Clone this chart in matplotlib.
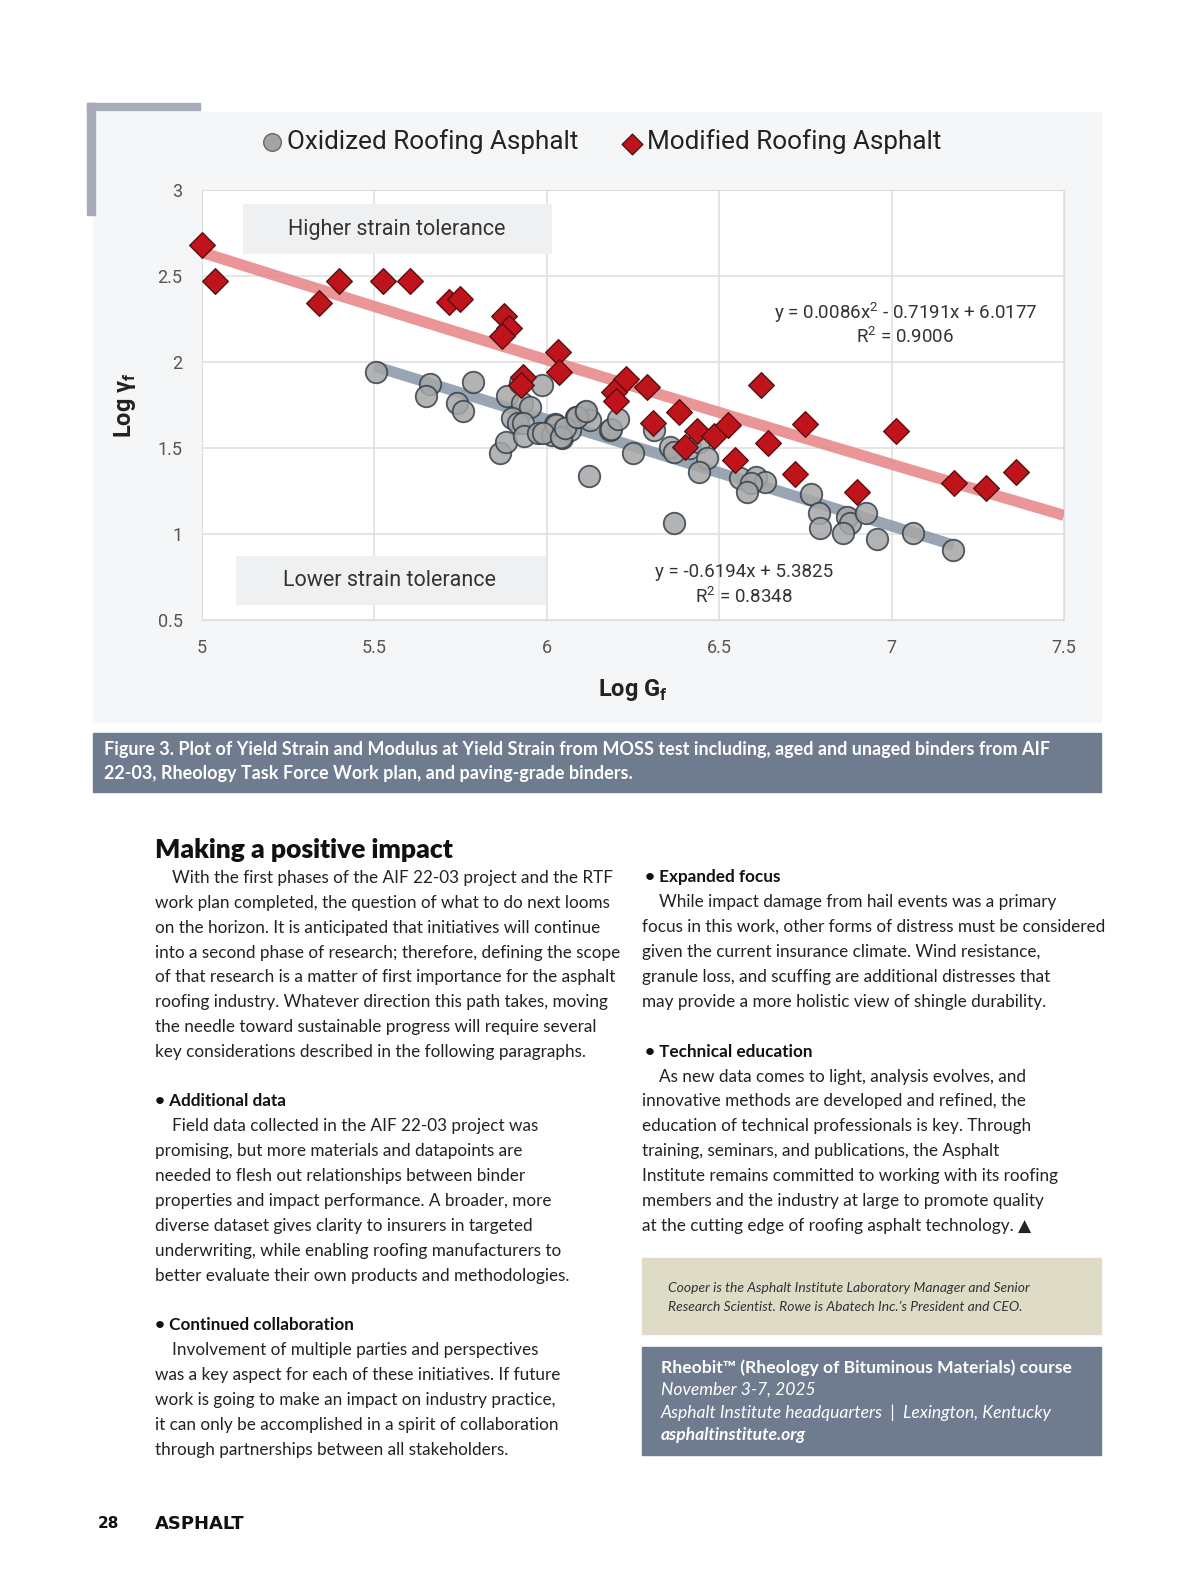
import numpy as np
import matplotlib.pyplot as plt
from matplotlib.patches import Rectangle

# ---- chart data ----
oxidized_G = [5.506, 5.661, 5.649, 5.741, 5.757, 5.786, 5.886, 5.864, 5.883, 5.922,
              5.927, 5.951, 5.898, 5.917, 5.931, 5.934, 5.975, 5.985, 6.023, 6.014,
              6.043, 6.067, 6.086, 6.11, 6.125, 6.122, 6.183, 6.026, 5.99, 6.042,
              6.052, 6.088, 6.114, 6.187, 6.207, 6.251, 6.311, 6.358, 6.368, 6.414,
              6.44, 6.466, 6.44, 6.368, 6.559, 6.606, 6.632, 6.591, 6.58, 6.766,
              6.79, 6.793, 6.87, 6.88, 6.858, 6.927, 6.958, 7.061, 7.177]
oxidized_Y = [1.944, 1.872, 1.804, 1.76, 1.713, 1.886, 1.804, 1.469, 1.533, 1.876,
              1.76, 1.74, 1.673, 1.644, 1.648, 1.572, 1.585, 1.866, 1.64, 1.576,
              1.556, 1.605, 1.682, 1.707, 1.663, 1.339, 1.605, 1.634, 1.585, 1.566,
              1.615, 1.679, 1.715, 1.609, 1.667, 1.469, 1.605, 1.504, 1.479, 1.498,
              1.537, 1.444, 1.362, 1.066, 1.324, 1.333, 1.304, 1.295, 1.246, 1.233,
              1.124, 1.033, 1.1, 1.062, 1.004, 1.124, 0.969, 1.004, 0.907]

modified_G = [5.0, 5.038, 5.339, 5.397, 5.524, 5.603, 5.716, 5.748, 5.876, 5.891,
              5.869, 5.93, 5.924, 6.032, 6.036, 6.231, 6.194, 6.2, 6.29, 6.383,
              6.309, 6.436, 6.486, 6.401, 6.526, 6.642, 6.546, 6.62, 6.749, 6.72,
              6.901, 7.013, 7.18, 7.274, 7.36]
modified_Y = [2.68, 2.473, 2.345, 2.473, 2.473, 2.473, 2.347, 2.364, 2.267, 2.196,
              2.151, 1.915, 1.866, 2.06, 1.944, 1.899, 1.827, 1.775, 1.853, 1.711,
              1.647, 1.60, 1.57, 1.504, 1.634, 1.527, 1.43, 1.866, 1.638, 1.347,
              1.246, 1.599, 1.295, 1.266, 1.362]

# trendline coefficients as printed on the chart
mod_coef = [0.0086, -0.7191, 6.0177]
mod_range = [5.0, 7.5]
oxi_coef = [-0.6194, 5.3825]
oxi_range = [5.5, 7.18]

x_ticks = [5, 5.5, 6, 6.5, 7, 7.5]
y_ticks = [0.5, 1, 1.5, 2, 2.5, 3]

W, H = 1200, 1575
fig = plt.figure(figsize=(W / 100, H / 100), dpi=100)
fig.patch.set_facecolor('white')

page = fig.add_axes([0, 0, 1, 1])
page.set_xlim(0, W)
page.set_ylim(H, 0)
page.axis('off')

BODY = ['Lato', 'DejaVu Sans']
NARROW = ['Liberation Sans Narrow', 'Roboto', 'DejaVu Sans']
SLATE = '#6f7b8f'

# chart image background and decorative bracket
page.add_patch(Rectangle((93, 112), 1008, 610, color='#f5f6f7', zorder=0))
page.add_patch(Rectangle((87, 103), 113, 7, color='#a8abb8', zorder=1))
page.add_patch(Rectangle((87, 103), 8, 112, color='#a8abb8', zorder=1))

# legend row
page.scatter([272], [142], s=160, marker='o', color='#a3a3a3', edgecolor='#666666', zorder=3)
page.text(287, 142, 'Oxidized Roofing Asphalt', fontsize=18.8, family=NARROW,
          color='#222222', va='center', ha='left')
page.scatter([632], [144], s=110, marker='D', color='#c0141c', edgecolor='#5a1010', zorder=3)
page.text(647, 142, 'Modified Roofing Asphalt', fontsize=18.8, family=NARROW,
          color='#222222', va='center', ha='left')

# axis labels and ticks drawn by the chart axes
ax = fig.add_axes([202 / W, 1 - 620 / H, (1064 - 202) / W, (620 - 190) / H])
ax.set_facecolor('white')
ax.set_xlim(5, 7.5)
ax.set_ylim(0.5, 3)
ax.set_xticks(x_ticks)
ax.set_xticklabels([f'{t:g}' for t in x_ticks])
ax.set_yticks(y_ticks)
ax.set_yticklabels([f'{t:g}' for t in y_ticks])
ax.grid(True, color='#dedede', linewidth=1.1)
ax.set_axisbelow(True)
for s in ax.spines.values():
    s.set_color('#dedede')
ax.tick_params(length=0, pad=14, labelsize=13, labelcolor='#555555')
for lab in ax.get_xticklabels() + ax.get_yticklabels():
    lab.set_family(NARROW)
ax.set_xlabel('Log G$_\\mathregular{f}$', fontsize=17, fontweight='bold', family=NARROW,
              color='#222222', labelpad=14)
ax.set_ylabel('Log γ$_\\mathregular{f}$', fontsize=17, fontweight='bold', family=NARROW,
              color='#222222', labelpad=14)

# shaded annotation boxes
ax.add_patch(Rectangle((5.119, 2.628), 0.895, 0.291, color='#eef0f2', zorder=2, lw=0))
ax.text(5.565, 2.773, 'Higher strain tolerance', fontsize=15.5, family=NARROW, color='#333333',
        ha='center', va='center', zorder=2.1)
ax.add_patch(Rectangle((5.099, 0.587), 0.898, 0.285, color='#eef0f2', zorder=2, lw=0))
ax.text(5.545, 0.727, 'Lower strain tolerance', fontsize=15.5, family=NARROW, color='#333333',
        ha='center', va='center', zorder=2.1)

# trendlines
xm = np.linspace(mod_range[0], mod_range[1], 100)
ax.plot(xm, np.polyval(mod_coef, xm), color='#e88a8d', linewidth=8, alpha=0.9,
        solid_capstyle='butt', zorder=3)
xo = np.linspace(oxi_range[0], oxi_range[1], 100)
ax.plot(xo, np.polyval(oxi_coef, xo), color='#8796a6', linewidth=8, alpha=0.85,
        solid_capstyle='butt', zorder=3)

ax.scatter(oxidized_G, oxidized_Y, s=240, marker='o', color='#a6a6a6', alpha=0.85,
           edgecolor='#34404c', linewidth=1.3, zorder=4)
ax.scatter(modified_G, modified_Y, s=170, marker='D', color='#c0141c',
           edgecolor='#5a1010', linewidth=1.0, zorder=5, clip_on=False)

ax.text(7.04, 2.29, 'y = 0.0086x$^\\mathregular{2}$ - 0.7191x + 6.0177', fontsize=13.5,
        family=NARROW, color='#333333', ha='center', va='center', zorder=6)
ax.text(7.04, 2.145, 'R$^\\mathregular{2}$ = 0.9006', fontsize=13.5, family=NARROW,
        color='#333333', ha='center', va='center', zorder=6)
ax.text(6.571, 0.78, 'y = -0.6194x + 5.3825', fontsize=13.5, family=NARROW,
        color='#333333', ha='center', va='center', zorder=6)
ax.text(6.571, 0.635, 'R$^\\mathregular{2}$ = 0.8348', fontsize=13.5, family=NARROW,
        color='#333333', ha='center', va='center', zorder=6)

# caption bar
page.add_patch(Rectangle((93, 733), 1008, 59, color=SLATE, zorder=1))
page.text(104, 750, 'Figure 3. Plot of Yield Strain and Modulus at Yield Strain from MOSS test including, aged and unaged binders from AIF',
          fontsize=13, family=BODY, fontweight='bold', color='white', va='center', zorder=2)
page.text(104, 774, '22-03, Rheology Task Force Work plan, and paving-grade binders.',
          fontsize=13, family=BODY, fontweight='bold', color='white', va='center', zorder=2)

# body text
left_lines = [
    (850, 155, 'Making a positive impact', 'head'),
    (878, 172, 'With the first phases of the AIF 22-03 project and the RTF', 'n'),
    (903, 155, 'work plan completed, the question of what to do next looms', 'n'),
    (928, 155, 'on the horizon. It is anticipated that initiatives will continue', 'n'),
    (953, 155, 'into a second phase of research; therefore, defining the scope', 'n'),
    (977, 155, 'of that research is a matter of first importance for the asphalt', 'n'),
    (1002, 155, 'roofing industry. Whatever direction this path takes, moving', 'n'),
    (1027, 155, 'the needle toward sustainable progress will require several', 'n'),
    (1052, 155, 'key considerations described in the following paragraphs.', 'n'),
    (1101, 155, '• Additional data', 'b'),
    (1126, 172, 'Field data collected in the AIF 22-03 project was', 'n'),
    (1151, 155, 'promising, but more materials and datapoints are', 'n'),
    (1176, 155, 'needed to flesh out relationships between binder', 'n'),
    (1201, 155, 'properties and impact performance. A broader, more', 'n'),
    (1226, 155, 'diverse dataset gives clarity to insurers in targeted', 'n'),
    (1251, 155, 'underwriting, while enabling roofing manufacturers to', 'n'),
    (1276, 155, 'better evaluate their own products and methodologies.', 'n'),
    (1325, 155, '• Continued collaboration', 'b'),
    (1350, 172, 'Involvement of multiple parties and perspectives', 'n'),
    (1375, 155, 'was a key aspect for each of these initiatives. If future', 'n'),
    (1400, 155, 'work is going to make an impact on industry practice,', 'n'),
    (1425, 155, 'it can only be accomplished in a spirit of collaboration', 'n'),
    (1450, 155, 'through partnerships between all stakeholders.', 'n'),
]
right_lines = [
    (877, 645, '• Expanded focus', 'b'),
    (902, 659, 'While impact damage from hail events was a primary', 'n'),
    (927, 642, 'focus in this work, other forms of distress must be considered', 'n'),
    (952, 642, 'given the current insurance climate. Wind resistance,', 'n'),
    (977, 642, 'granule loss, and scuffing are additional distresses that', 'n'),
    (1002, 642, 'may provide a more holistic view of shingle durability.', 'n'),
    (1052, 645, '• Technical education', 'b'),
    (1077, 659, 'As new data comes to light, analysis evolves, and', 'n'),
    (1101, 642, 'innovative methods are developed and refined, the', 'n'),
    (1126, 642, 'education of technical professionals is key. Through', 'n'),
    (1151, 642, 'training, seminars, and publications, the Asphalt', 'n'),
    (1176, 642, 'Institute remains committed to working with its roofing', 'n'),
    (1201, 642, 'members and the industry at large to promote quality', 'n'),
    (1226, 642, 'at the cutting edge of roofing asphalt technology. ▲', 'n'),
]
for y, x, txt, kind in left_lines + right_lines:
    if kind == 'head':
        page.text(x, y, txt, fontsize=19, family=BODY, fontweight='heavy',
                  color='#111111', va='center')
    elif kind == 'b':
        page.text(x, y, txt, fontsize=12.3, family=BODY, fontweight='bold',
                  color='#111111', va='center')
    else:
        page.text(x, y, txt, fontsize=12.3, family=BODY, color='#222222', va='center')

# author note box
page.add_patch(Rectangle((642, 1258), 459, 76, color='#dedcc7', zorder=1))
page.text(668, 1288, 'Cooper is the Asphalt Institute Laboratory Manager and Senior',
          fontsize=10, family=BODY, style='italic', color='#333333', va='center', zorder=2)
page.text(668, 1307, 'Research Scientist. Rowe is Abatech Inc.\u2019s President and CEO.',
          fontsize=10, family=BODY, style='italic', color='#333333', va='center', zorder=2)

# course box
page.add_patch(Rectangle((642, 1347), 459, 108, color=SLATE, zorder=1))
page.text(661, 1368, 'Rheobit\u2122 (Rheology of Bituminous Materials) course', fontsize=12.6,
          family=BODY, fontweight='bold', color='white', va='center', zorder=2)
page.text(661, 1390, 'November 3-7, 2025', fontsize=12.6, family=BODY, style='italic',
          color='white', va='center', zorder=2)
page.text(661, 1413, 'Asphalt Institute headquarters  |  Lexington, Kentucky', fontsize=12.6,
          family=BODY, style='italic', color='white', va='center', zorder=2)
page.text(661, 1435, 'asphaltinstitute.org', fontsize=12.6, family=BODY, style='italic',
          fontweight='bold', color='white', va='center', zorder=2)

# footer
page.text(98, 1524, '28', fontsize=11, family=['DejaVu Sans'], fontweight='bold',
          color='#111111', va='center')
page.text(155, 1524, 'ASPHALT', fontsize=13, family=['DejaVu Sans'], fontweight='heavy',
          color='#111111', va='center')

fig.savefig('out.png', dpi=100)
